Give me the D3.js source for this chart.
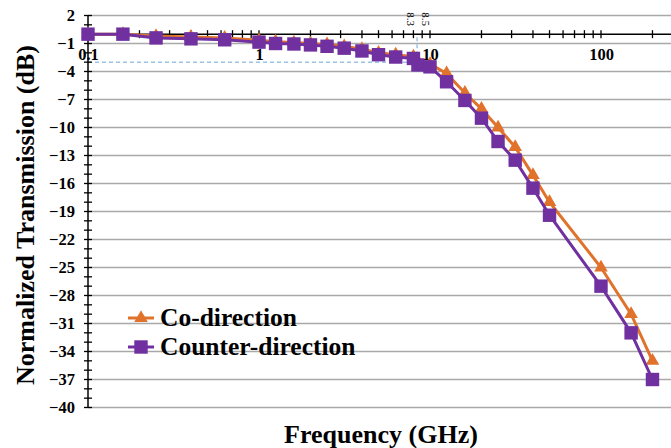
<!DOCTYPE html>
<html>
<head>
<meta charset="utf-8">
<script src="https://cdn.jsdelivr.net/npm/d3@7"></script>
<style>
  body { margin: 0; background: #fff; }
  svg text { font-family: "Liberation Serif", "Times New Roman", Times, serif !important; }
</style>
</head>
<body>
<div id="chart"></div>
<script>

// frequencies (GHz) and normalized transmission (dB)
var freq = [0.1, 0.16, 0.25, 0.4, 0.63, 1, 1.25, 1.6, 2, 2.5, 3.15, 4, 5, 6.3, 8, 8.5, 10,
            12.5, 16, 20, 25, 31.5, 40, 50, 100, 150, 200];
var coDirection = [0, 0, -0.2, -0.3, -0.4, -0.65, -0.8, -0.9, -1.0, -1.1, -1.3, -1.6, -2.0, -2.2, -2.4, -2.9, -3.2,
                   -4.2, -6.3, -8.0, -10.0, -12.1, -15.1, -18.0, -25.0, -30.0, -35.0];
var counterDirection = [0, 0, -0.4, -0.5, -0.6, -0.85, -1.0, -1.05, -1.15, -1.3, -1.5, -1.8, -2.2, -2.45, -2.6, -3.3, -3.5,
                        -5.1, -7.1, -9.0, -11.5, -13.5, -16.5, -19.4, -27.0, -32.0, -37.0];
var yTicks = [2, -1, -4, -7, -10, -13, -16, -19, -22, -25, -28, -31, -34, -37, -40];
var xLabels = [0.1, 1, 10, 100];
var cutoffLevel = -3;
var cutoffFreq = 8.4;
var cutoffLabels = ["8.3", "8.5"];

var width = 671, height = 448;
var serif = "'Liberation Serif', 'Times New Roman', Times, serif";

var svg = d3.select("#chart")
  .append("svg")
    .attr("width", width)
    .attr("height", height)
    .attr("font-family", serif);

var x = d3.scaleLog()
  .domain([0.1, 1000])
  .range([88, 772]);

var y = d3.scaleLinear()
  .domain([-40, 2])
  .range([407.5, 15.5]);

// horizontal gridlines
svg.append("g")
  .selectAll("line")
  .data(yTicks)
  .enter()
  .append("line")
    .attr("x1", x(0.1))
    .attr("x2", width)
    .attr("y1", function(d) { return y(d); })
    .attr("y2", function(d) { return y(d); })
    .style("stroke", "#a9a9a9")
    .style("stroke-width", 1.4);

// -3 dB guide
svg.append("path")
  .attr("d", "M" + x(0.1) + "," + y(cutoffLevel) + "H" + x(cutoffFreq) + "V" + y(0))
  .style("fill", "none")
  .style("stroke", "#9dc3e6")
  .style("stroke-width", 1.5)
  .style("stroke-dasharray", "4,3");

// Y axis with crossing ticks
var yMinor = d3.range(-40, 3, 1);
svg.append("line")
  .attr("x1", x(0.1)).attr("x2", x(0.1))
  .attr("y1", y(2)).attr("y2", y(-40))
  .style("stroke", "#000").style("stroke-width", 1.5);
svg.append("g")
  .selectAll("line")
  .data(yMinor)
  .enter()
  .append("line")
    .attr("x1", x(0.1) - 4)
    .attr("x2", x(0.1) + 4)
    .attr("y1", function(d) { return y(d); })
    .attr("y2", function(d) { return y(d); })
    .style("stroke", "#000")
    .style("stroke-width", 1.3);

var yAxis = svg.append("g")
  .attr("transform", "translate(" + x(0.1) + ",0)")
  .call(d3.axisLeft(y).tickValues(yTicks).tickSize(0).tickPadding(13));
yAxis.select(".domain").remove();
yAxis.attr("font-family", serif);
yAxis.selectAll("text")
  .style("font-size", "16.5px")
  .style("font-weight", "bold")
  .style("fill", "#000");

// X axis at 0 dB with log ticks
var xMinor = [];
[0.1, 1, 10, 100].forEach(function(b) {
  for (var k = 1; k <= 9; k++) xMinor.push(b * k);
});
xMinor.push(1000);
svg.append("line")
  .attr("x1", x(0.1)).attr("x2", width)
  .attr("y1", y(0)).attr("y2", y(0))
  .style("stroke", "#000").style("stroke-width", 1.5);
svg.append("g")
  .selectAll("line")
  .data(xMinor)
  .enter()
  .append("line")
    .attr("x1", function(d) { return x(d); })
    .attr("x2", function(d) { return x(d); })
    .attr("y1", y(0) - 4)
    .attr("y2", y(0) + 4)
    .style("stroke", "#000")
    .style("stroke-width", 1.3);

var xAxis = svg.append("g")
  .attr("transform", "translate(0," + y(0) + ")")
  .call(d3.axisBottom(x).tickValues(xLabels).tickSize(0).tickPadding(14)
    .tickFormat(function(d) { return d3.format("")(d); }));
xAxis.select(".domain").remove();
xAxis.attr("font-family", serif);
xAxis.selectAll("text")
  .style("font-size", "16.5px")
  .style("font-weight", "bold")
  .style("fill", "#000");

// cutoff labels above the axis
svg.append("g")
  .selectAll("text")
  .data(cutoffLabels)
  .enter()
  .append("text")
    .attr("transform", function(d, i) {
      return "translate(" + (x(+d) + (i === 0 ? -9 : 4)) + "," + (y(0) - 22) + ") rotate(90)";
    })
    .style("font-size", "11px")
    .style("fill", "#000")
    .text(function(d) { return d; });

// series
var series = [
  {name: "Co-direction", values: coDirection, color: "#e0722c", shape: d3.symbolTriangle, size: 80},
  {name: "Counter-direction", values: counterDirection, color: "#7030a0", shape: d3.symbolSquare, size: 180}
];

var line = d3.line()
  .x(function(d) { return x(d[0]); })
  .y(function(d) { return y(d[1]); });

series.forEach(function(s) {
  var pts = freq.map(function(f, i) { return [f, s.values[i]]; });
  svg.append("path")
    .datum(pts)
    .attr("d", line)
    .style("fill", "none")
    .style("stroke", s.color)
    .style("stroke-width", 3);
  svg.append("g")
    .selectAll("path")
    .data(pts)
    .enter()
    .append("path")
      .attr("transform", function(d) { return "translate(" + x(d[0]) + "," + y(d[1]) + ")"; })
      .attr("d", d3.symbol().type(s.shape).size(s.size))
      .style("fill", s.color);
});

// legend
var legend = svg.append("g")
  .attr("transform", "translate(128,318)");
series.forEach(function(s, i) {
  var g = legend.append("g").attr("transform", "translate(0," + (i * 29) + ")");
  g.append("line")
    .attr("x1", 0).attr("x2", 26)
    .style("stroke", s.color)
    .style("stroke-width", 3);
  g.append("path")
    .attr("transform", "translate(13,0)")
    .attr("d", d3.symbol().type(s.shape).size(s.size))
    .style("fill", s.color);
  g.append("text")
    .attr("x", 32)
    .attr("y", 8)
    .style("font-size", "25.5px")
    .style("font-weight", "bold")
    .text(s.name);
});

// axis titles
svg.append("text")
  .attr("text-anchor", "middle")
  .attr("transform", "translate(34,215) rotate(-90)")
  .style("font-size", "26px")
  .style("font-weight", "bold")
  .text("Normalized Transmission (dB)");

svg.append("text")
  .attr("text-anchor", "middle")
  .attr("x", 381)
  .attr("y", 443)
  .style("font-size", "26px")
  .style("font-weight", "bold")
  .text("Frequency (GHz)");

</script>
</body>
</html>
